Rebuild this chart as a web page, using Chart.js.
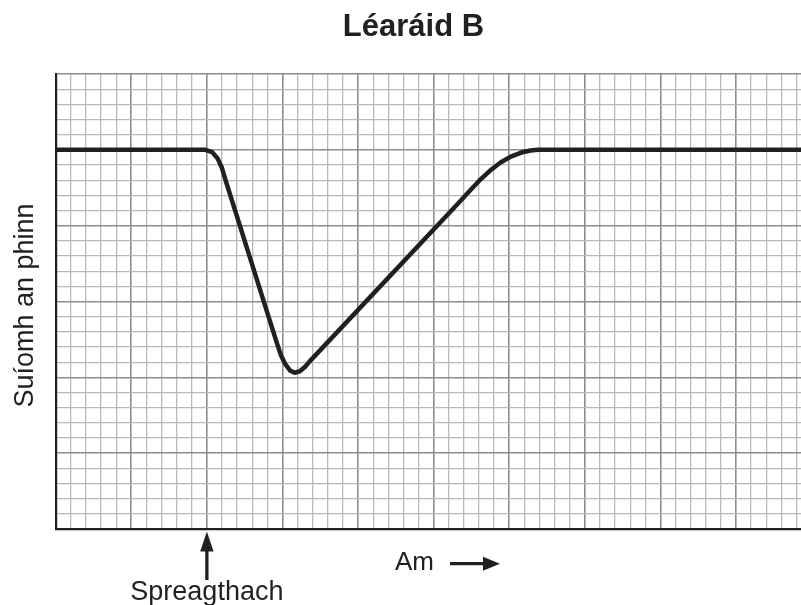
<!DOCTYPE html>
<html lang="ga">
<head>
    <meta charset="UTF-8">
    <title>Léaráid B</title>
    <script src="https://cdn.jsdelivr.net/npm/chart.js"></script>
    <style>
        html, body { margin: 0; padding: 0; background: #ffffff; }
        .wrap { width: 801px; height: 605px; position: relative; }
    </style>
</head>
<body>
<div class="wrap"><canvas id="graf"></canvas></div>
<script>
// Am (x) agus suíomh an phinn (y), in aonaid mhionchearnóga
const amValues = [0, 9.9, 10.35, 10.7, 11.0, 11.25, 14.6, 14.9, 15.2, 15.5, 15.8, 16.15, 16.5, 16.8,
                  26.6, 27.3, 28.0, 28.7, 29.4, 30.1, 30.8, 31.4, 31.9, 49.3];
const suiomhValues = [25, 25, 24.85, 24.45, 23.8, 22.95, 12.35, 11.45, 10.85, 10.45, 10.3, 10.4, 10.7, 11.05,
                      21.45, 22.2, 22.95, 23.6, 24.15, 24.55, 24.82, 24.96, 25, 25];
const stimulusAt = 10;
const titleText = 'Léaráid B';
const yTitle = 'Suíomh an phinn';
const xTitle = 'Am';
const stimulusLabel = 'Spreagthach';

const ink = '#231f20';
const fontFam = '"Liberation Sans", Arial, Helvetica, sans-serif';

const points = amValues.map((a, i) => ({ x: a, y: suiomhValues[i] }));

function gridColor(ctx) {
    return ctx.tick && ctx.tick.value % 5 === 0 ? '#8c8c8c' : '#b8b8b8';
}
function gridWidth(ctx) {
    return ctx.tick && ctx.tick.value % 5 === 0 ? 1.6 : 1.3;
}

const labelsPlugin = {
    id: 'labels',
    afterDraw(chart) {
        const c = chart.ctx;
        const area = chart.chartArea;
        c.save();
        c.fillStyle = ink;
        c.strokeStyle = ink;

        // teideal
        c.font = 'bold 31px ' + fontFam;
        c.textAlign = 'center';
        c.textBaseline = 'alphabetic';
        c.fillText(titleText, 413.5, 35.5);

        // lipéad y
        c.save();
        c.translate(33, (area.top + area.bottom) / 2 + 4);
        c.rotate(-Math.PI / 2);
        c.font = '27px ' + fontFam;
        c.textAlign = 'center';
        c.fillText(yTitle, 0, 0);
        c.restore();

        // Am -->
        c.font = '26px ' + fontFam;
        c.textAlign = 'left';
        c.fillText(xTitle, 395, 570);
        c.lineWidth = 3.3;
        c.beginPath();
        c.moveTo(450, 563.7);
        c.lineTo(486, 563.7);
        c.stroke();
        c.beginPath();
        c.moveTo(500, 563.7);
        c.lineTo(483, 556.7);
        c.lineTo(483, 570.7);
        c.closePath();
        c.fill();

        // saighead an spreagthaigh
        const sx = chart.scales.x.getPixelForValue(stimulusAt);
        const tip = area.bottom + 2.5;
        c.beginPath();
        c.moveTo(sx, tip + 18);
        c.lineTo(sx, 580);
        c.stroke();
        c.beginPath();
        c.moveTo(sx, tip);
        c.lineTo(sx - 6.7, tip + 20);
        c.lineTo(sx + 6.7, tip + 20);
        c.closePath();
        c.fill();

        c.font = '27px ' + fontFam;
        c.textAlign = 'center';
        c.fillText(stimulusLabel, sx, 600);
        c.restore();
    }
};

new Chart(document.getElementById('graf'), {
    type: 'line',
    data: {
        datasets: [{
            data: points,
            borderColor: ink,
            borderWidth: 4.5,
            pointRadius: 0,
            tension: 0,
            borderCapStyle: 'round',
            borderJoinStyle: 'round',
            fill: false
        }]
    },
    options: {
        responsive: true,
        maintainAspectRatio: false,
        animation: false,
        layout: { padding: { left: 55.7, right: 0, top: 74, bottom: 76 } },
        plugins: {
            legend: { display: false },
            title: { display: false },
            tooltip: { enabled: false }
        },
        scales: {
            x: {
                type: 'linear',
                min: 0,
                max: 49.3,
                ticks: { display: false, stepSize: 1, maxTicksLimit: 200, includeBounds: false },
                grid: { color: gridColor, lineWidth: gridWidth, drawTicks: false },
                border: { display: true, color: ink, width: 2.2 }
            },
            y: {
                min: 0,
                max: 30,
                ticks: { display: false, stepSize: 1, maxTicksLimit: 200 },
                grid: { color: gridColor, lineWidth: gridWidth, drawTicks: false },
                border: { display: true, color: ink, width: 2.2 }
            }
        }
    },
    plugins: [labelsPlugin]
});
</script>
</body>
</html>
